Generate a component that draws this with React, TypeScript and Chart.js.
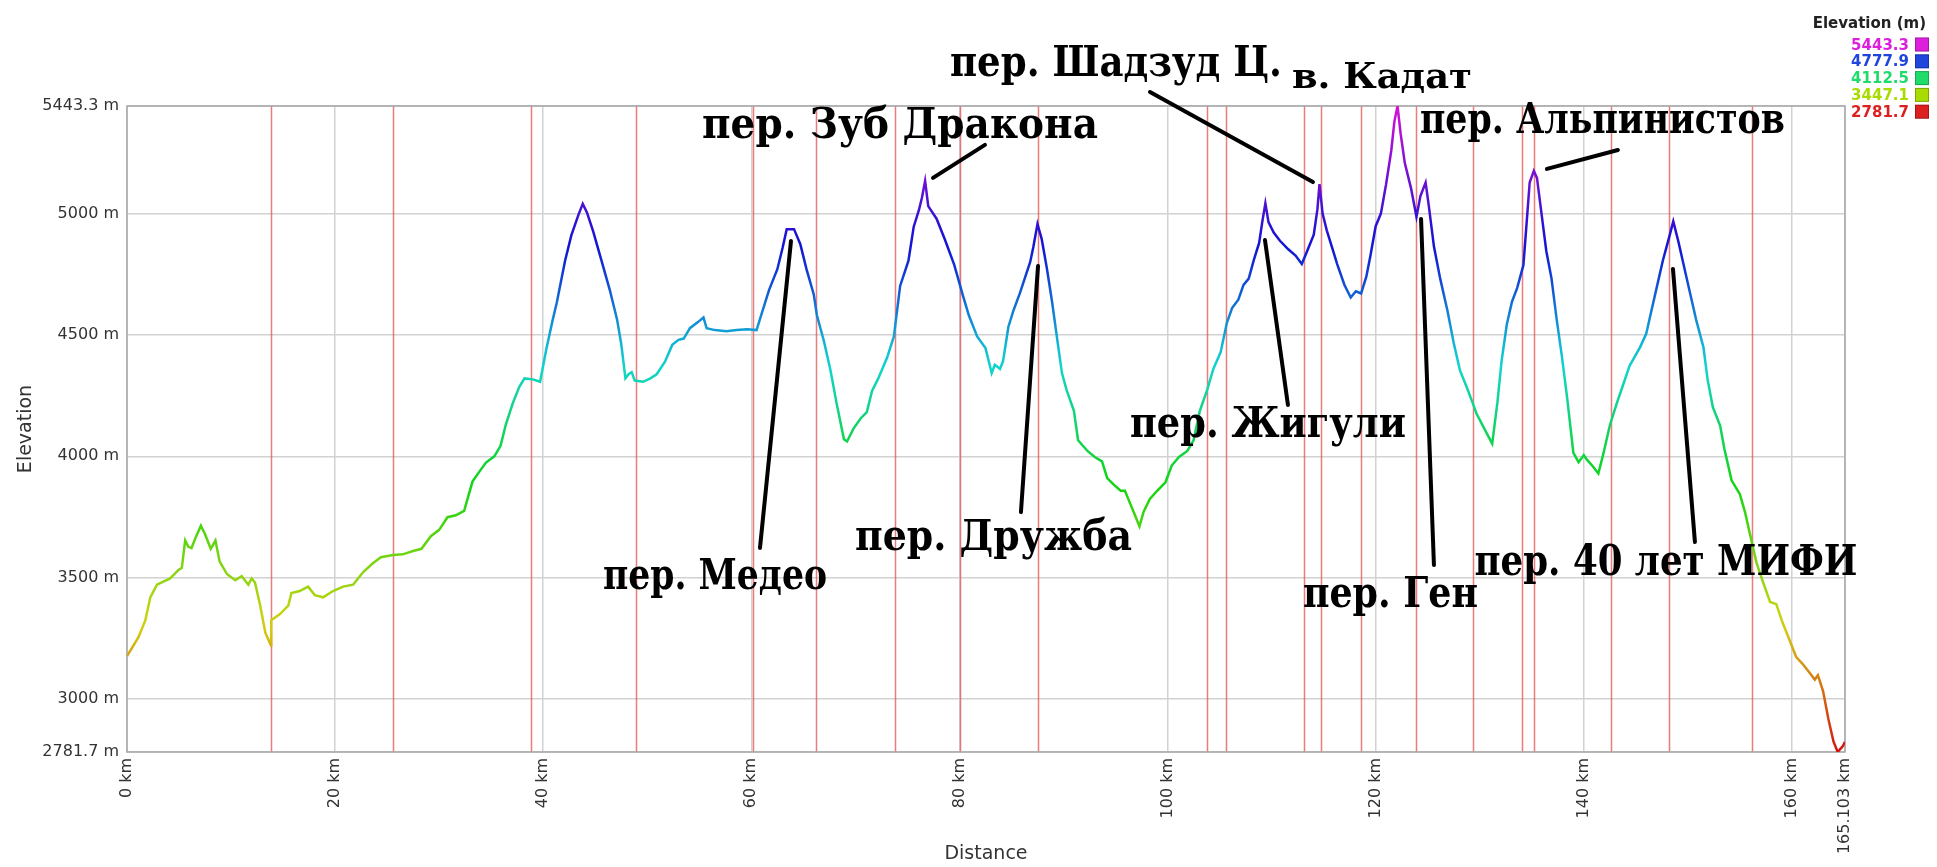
import React, { useEffect, useRef } from 'react';
import { Chart, registerables } from 'chart.js';

Chart.register(...registerables);

// Elevation profile: distance along the route (km) and elevation (m)
const distanceKm = [
  0, 1.1, 1.76, 2.24, 2.88, 4.15, 4.95, 5.27, 5.59, 5.9, 6.2, 6.65, 7.1, 7.5, 8.05, 8.5, 8.9, 9.6, 10.4, 11.02,
  11.66, 11.98, 12.3, 12.8, 13.3, 13.84, 13.86, 14.7, 15.5, 15.8, 16.6, 17.4, 18.05, 18.85, 19.8, 20.77, 21.73, 22.7,
  23.6, 24.4, 25.56, 26.5, 27.5, 28.3, 29.2, 30.0, 30.8, 31.6, 32.4, 33.2, 33.9, 34.5, 35.3, 35.9, 36.4, 37.06, 37.7,
  38.2, 39.0, 39.7, 40.3, 40.9, 41.3, 42.1, 42.7, 43.4, 43.8, 44.2, 44.8, 45.6, 46.4, 47.1, 47.5, 47.9, 48.2, 48.5,
  48.8, 49.6, 50.3, 50.9, 51.7, 52.4, 53.0, 53.5, 54.1, 54.9, 55.4, 55.7, 56.5, 57.6, 58.6, 59.6, 60.5, 61.0, 61.7,
  62.5, 63.0, 63.4, 64.1, 64.7, 65.3, 66.0, 66.3, 66.96, 67.6, 68.2, 68.9, 69.2, 69.8, 70.5, 71.1, 71.6, 72.2, 73.05,
  73.7, 74.3, 75.1, 75.6, 76.1, 76.4, 76.7, 77.0, 77.8, 78.6, 79.5, 80.3, 80.9, 81.7, 82.5, 83.1, 83.4, 83.9, 84.2,
  84.7, 85.2, 85.8, 86.8, 87.1, 87.5, 87.9, 88.4, 88.9, 89.4, 89.85, 90.3, 91.0, 91.4, 92.3, 93.0, 93.7, 94.2, 94.8,
  95.5, 95.9, 96.4, 96.9, 97.3, 97.7, 98.3, 99.0, 99.8, 100.4, 101.1, 101.9, 102.5, 103.1, 103.8, 104.4, 105.1, 105.7,
  106.2, 106.8, 107.3, 107.8, 108.3, 108.8, 109.1, 109.4, 109.7, 110.2, 110.8, 111.6, 112.3, 112.9, 113.4, 114.05,
  114.4, 114.6, 114.9, 115.3, 115.8, 116.3, 117.0, 117.6, 118.1, 118.6, 119.1, 119.5, 120.0, 120.5, 121.0, 121.5,
  121.8, 122.1, 122.4, 122.8, 123.4, 123.92, 124.3, 124.8, 125.1, 125.6, 126.2, 126.9, 127.5, 128.1, 128.8, 129.3,
  129.7, 130.5, 131.2, 131.7, 132.1, 132.6, 133.1, 133.6, 134.2, 134.5, 134.8, 135.2, 135.5, 135.95, 136.4, 136.9,
  137.4, 137.9, 138.4, 139.0, 139.5, 140.0, 140.3, 140.9, 141.4, 141.9, 142.5, 143.2, 143.8, 144.4, 145.4, 146.0,
  146.4, 147.0, 147.6, 148.2, 148.6, 149.1, 149.6, 150.2, 150.8, 151.5, 151.9, 152.4, 153.1, 153.5, 154.2, 155.0,
  155.5, 156.0, 156.6, 157.2, 157.9, 158.5, 159.1, 159.8, 160.4, 161.0, 161.7, 162.2, 162.5, 163.0, 163.5, 164.0,
  164.4, 164.9, 165.103,
];

const elevationM = [
  3177, 3255, 3324, 3419, 3471, 3497, 3532, 3541, 3653, 3627, 3622, 3671, 3714, 3679, 3619, 3653, 3567, 3515, 3489, 3506,
  3471, 3497, 3480, 3385, 3272, 3220, 3325, 3350, 3385, 3437, 3445, 3463, 3428, 3419, 3445, 3463, 3471, 3523,
  3558, 3584, 3593, 3596, 3610, 3619, 3671, 3697, 3749, 3757, 3775, 3896, 3939, 3974, 4000, 4043, 4130, 4217, 4286,
  4321, 4317, 4307, 4442, 4560, 4633, 4806, 4910, 4997, 5040, 5005, 4927, 4806, 4685, 4563, 4462, 4321, 4338, 4347,
  4312, 4307, 4321, 4338, 4390, 4459, 4480, 4485, 4528, 4554, 4572, 4528, 4520, 4515, 4520, 4523, 4520, 4589, 4685,
  4771, 4858, 4936, 4936, 4875, 4771, 4667, 4581, 4477, 4356, 4217, 4070, 4061, 4113, 4156, 4182, 4269, 4321, 4407,
  4494, 4702, 4806, 4945, 5014, 5066, 5135, 5031, 4979, 4893, 4789, 4667, 4581, 4494, 4446, 4343, 4377, 4360, 4394,
  4533, 4602, 4671, 4801, 4862, 4957, 4896, 4775, 4637, 4481, 4343, 4273, 4187, 4066, 4022, 3997, 3979, 3910, 3884,
  3858, 3858, 3806, 3754, 3711, 3772, 3824, 3858, 3893, 3962, 3997, 4022, 4066, 4187, 4273, 4360, 4429, 4550,
  4611, 4645, 4706, 4732, 4810, 4879, 4965, 5043, 4965, 4922, 4888, 4853, 4827, 4792, 4844, 4913,
  5017, 5121, 5000, 4931, 4862, 4792, 4706, 4654, 4680, 4671, 4740, 4827, 4948, 5000, 5121, 5260,
  5380, 5443, 5329, 5208, 5104, 4987, 5072, 5128, 5034, 4864, 4732, 4600, 4467, 4354, 4279, 4222,
  4175, 4109, 4052, 4222, 4392, 4543, 4637, 4694, 4788, 4958, 5128, 5176, 5147, 4996, 4845, 4732,
  4562, 4411, 4241, 4014, 3976, 4005, 3986, 3957, 3929, 4014, 4127, 4222, 4297, 4373, 4449, 4505,
  4581, 4694, 4807, 4902, 4968, 4883, 4788, 4675, 4562, 4449, 4316, 4203, 4127, 4033, 3901, 3844,
  3769, 3674, 3561, 3485, 3400, 3391, 3315, 3240, 3174, 3146, 3108, 3080, 3098, 3032, 2919, 2824,
  2782, 2806, 2824,
];

// Red waypoint markers (km)
const waypointKm = [
  13.84, 25.56, 38.83, 48.92, 60.16, 66.21, 73.8, 80.05, 87.51, 103.77, 105.61, 113.07, 114.74, 118.59, 123.92,
  129.32, 134.03, 135.19, 142.65, 148.16, 156.2,
];

const xTickKm = [0, 20, 40, 60, 80, 100, 120, 140, 160, 165.103];
const yTickM = [2781.7, 3000, 3500, 4000, 4500, 5000, 5443.3];

const legendValues = [5443.3, 4777.9, 4112.5, 3447.1, 2781.7];
const legendColors = ['#dc1fdc', '#1f45dc', '#1fdc6a', '#a8dc00', '#dc1f1f'];
const legendHues = [300, 230, 145, 75, 0];

// Pass names with their label extent (km) and baseline elevation (m)
const passNames = [
  'пер. Зуб Дракона', 'пер. Шадзуд Ц.', 'в. Кадат', 'пер. Альпинистов', 'пер. Медео',
  'пер. Дружба', 'пер. Жигули', 'пер. Ген', 'пер. 40 лет МИФИ',
];
const passLabelStartKm = [55.26, 79.09, 111.95, 124.25, 45.74, 69.96, 96.39, 113.01, 129.5];
const passLabelEndKm = [93.31, 110.99, 129.25, 159.33, 67.27, 96.58, 122.91, 129.83, 166.3];
const passLabelBaseM = [5311.5, 5566.9, 5517.5, 5332.1, 3453.3, 3614, 4079.5, 3379.1, 3511];
const passLabelSmall = [false, false, true, false, false, false, false, false, false];

// Pointer lines from label to the pass (km, m) -> (km, m)
const pointerFromKm = [77.46, 98.31, 136.46, 60.83, 85.91, 111.57, 125.6, 150.68];
const pointerFromM = [5147, 5501, 5184, 3622, 3770, 4211, 3552, 3647];
const pointerToKm = [82.45, 113.97, 143.28, 63.81, 87.55, 109.36, 124.36, 148.57];
const pointerToM = [5283, 5130, 5262, 4887, 4784, 4891, 4978, 4772];

const FONT = '"DejaVu Sans", sans-serif';
const LABEL_FONT = '"DejaVu Serif", "Liberation Serif", serif';

function elevationGradient(chart: any) {
  const { ctx, chartArea, scales } = chart;
  if (!chartArea || !scales.y) return legendColors[1];
  const y = scales.y;
  const last = legendValues.length - 1;
  const lo = legendValues[last];
  const hi = legendValues[0];
  const g = ctx.createLinearGradient(0, y.getPixelForValue(lo), 0, y.getPixelForValue(hi));
  for (let i = last; i > 0; i--) {
    const v0 = legendValues[i];
    const v1 = legendValues[i - 1];
    const h0 = legendHues[i];
    const h1 = legendHues[i - 1];
    for (let k = 0; k <= 8; k++) {
      const t = k / 8;
      const v = v0 + (v1 - v0) * t;
      const h = h0 + (h1 - h0) * t;
      g.addColorStop((v - lo) / (hi - lo), `hsl(${h}, 85%, 45%)`);
    }
  }
  return g;
}

const waypointPlugin = {
  id: 'waypoints',
  beforeDatasetsDraw(chart: any) {
    const { ctx, chartArea, scales } = chart;
    ctx.save();
    ctx.strokeStyle = 'rgba(228, 80, 80, 0.75)';
    ctx.lineWidth = 1.5;
    waypointKm.forEach((km) => {
      const x = Math.round(scales.x.getPixelForValue(km)) + 0.5;
      ctx.beginPath();
      ctx.moveTo(x, chartArea.top);
      ctx.lineTo(x, chartArea.bottom);
      ctx.stroke();
    });
    ctx.strokeStyle = '#a8a8a8';
    ctx.lineWidth = 1.5;
    ctx.strokeRect(chartArea.left, chartArea.top, chartArea.right - chartArea.left, chartArea.bottom - chartArea.top);
    ctx.restore();
  },
};

const annotationPlugin = {
  id: 'passAnnotations',
  afterDatasetsDraw(chart: any) {
    const { ctx, scales } = chart;
    const sx = scales.x;
    const sy = scales.y;
    ctx.save();
    ctx.strokeStyle = '#000';
    ctx.lineWidth = 4;
    ctx.lineCap = 'round';
    pointerFromKm.forEach((km, i) => {
      ctx.beginPath();
      ctx.moveTo(sx.getPixelForValue(km), sy.getPixelForValue(pointerFromM[i]));
      ctx.lineTo(sx.getPixelForValue(pointerToKm[i]), sy.getPixelForValue(pointerToM[i]));
      ctx.stroke();
    });
    ctx.fillStyle = '#000';
    ctx.textAlign = 'left';
    ctx.textBaseline = 'alphabetic';
    passNames.forEach((name, i) => {
      const size = passLabelSmall[i] ? 36 : 42;
      ctx.font = `bold ${size}px ${LABEL_FONT}`;
      const x0 = sx.getPixelForValue(passLabelStartKm[i]);
      const x1 = sx.getPixelForValue(passLabelEndKm[i]);
      const yb = sy.getPixelForValue(passLabelBaseM[i]);
      const w = ctx.measureText(name).width;
      ctx.save();
      ctx.translate(x0, yb);
      ctx.scale((x1 - x0) / w, 1);
      ctx.fillText(name, 0, 0);
      ctx.restore();
    });
    ctx.restore();
  },
};

const legendPlugin = {
  id: 'elevationLegend',
  afterDraw(chart: any) {
    const { ctx, width } = chart;
    const right = width - 11;
    ctx.save();
    ctx.font = `bold 15px ${FONT}`;
    ctx.textAlign = 'right';
    ctx.textBaseline = 'alphabetic';
    ctx.fillStyle = '#222';
    ctx.fillText('Elevation (m)', right, 28);
    legendValues.forEach((v, i) => {
      const base = 49.5 + i * 16.8;
      ctx.fillStyle = legendColors[i];
      ctx.fillText(v.toFixed(1), right - 17, base);
      ctx.fillRect(right - 11, base - 12, 14, 14);
      ctx.strokeStyle = 'rgba(0,0,0,0.25)';
      ctx.lineWidth = 1;
      ctx.strokeRect(right - 10.5, base - 11.5, 13, 13);
    });
    ctx.restore();
  },
};

export default function App() {
  const canvasRef = useRef<HTMLCanvasElement>(null);

  useEffect(() => {
    document.body.style.margin = '0';
    const canvas = canvasRef.current;
    if (!canvas) return;
    const points = distanceKm.map((d, i) => ({ x: d, y: elevationM[i] }));
    const chart = new Chart(canvas, {
      type: 'line',
      data: {
        datasets: [
          {
            label: 'Elevation',
            data: points,
            borderColor: (c: any) => elevationGradient(c.chart),
            borderWidth: 2.5,
            pointRadius: 0,
            tension: 0,
            fill: false,
          },
        ],
      },
      options: {
        animation: false,
        responsive: true,
        maintainAspectRatio: false,
        layout: { padding: { top: 106, right: 92, bottom: 0, left: 0 } },
        plugins: {
          legend: { display: false },
          tooltip: { enabled: false },
        },
        scales: {
          x: {
            type: 'linear',
            min: 0,
            max: 165.103,
            afterBuildTicks: (scale: any) => {
              scale.ticks = xTickKm.map((v) => ({ value: v }));
            },
            afterFit: (scale: any) => {
              scale.height = 115;
            },
            ticks: {
              autoSkip: false,
              minRotation: 90,
              maxRotation: 90,
              padding: 6,
              color: '#333',
              font: { family: FONT, size: 16 },
              callback: (v: any) => `${v} km`,
            },
            grid: { color: '#d2d2d2', lineWidth: 1.5, drawTicks: false },
            border: { display: false },
            title: {
              display: true,
              text: 'Distance',
              color: '#333',
              font: { family: FONT, size: 19 },
              padding: { top: 0, bottom: 2 },
            },
          },
          y: {
            type: 'linear',
            min: 2781.7,
            max: 5443.3,
            afterBuildTicks: (scale: any) => {
              scale.ticks = yTickM.map((v) => ({ value: v }));
            },
            afterFit: (scale: any) => {
              scale.width = 127;
            },
            ticks: {
              autoSkip: false,
              padding: 8,
              color: '#333',
              font: { family: FONT, size: 16 },
              callback: (v: any) => `${v} m`,
            },
            grid: { color: '#d2d2d2', lineWidth: 1.5, drawTicks: false },
            border: { display: false },
            title: {
              display: true,
              text: 'Elevation',
              color: '#333',
              font: { family: FONT, size: 19 },
              padding: { top: 15, bottom: 0 },
            },
          },
        },
      },
      plugins: [waypointPlugin, annotationPlugin, legendPlugin],
    } as any);
    return () => chart.destroy();
  }, []);

  return (
    <div style={{ position: 'relative', width: '1937px', height: '867px' }}>
      <canvas ref={canvasRef} />
    </div>
  );
}
